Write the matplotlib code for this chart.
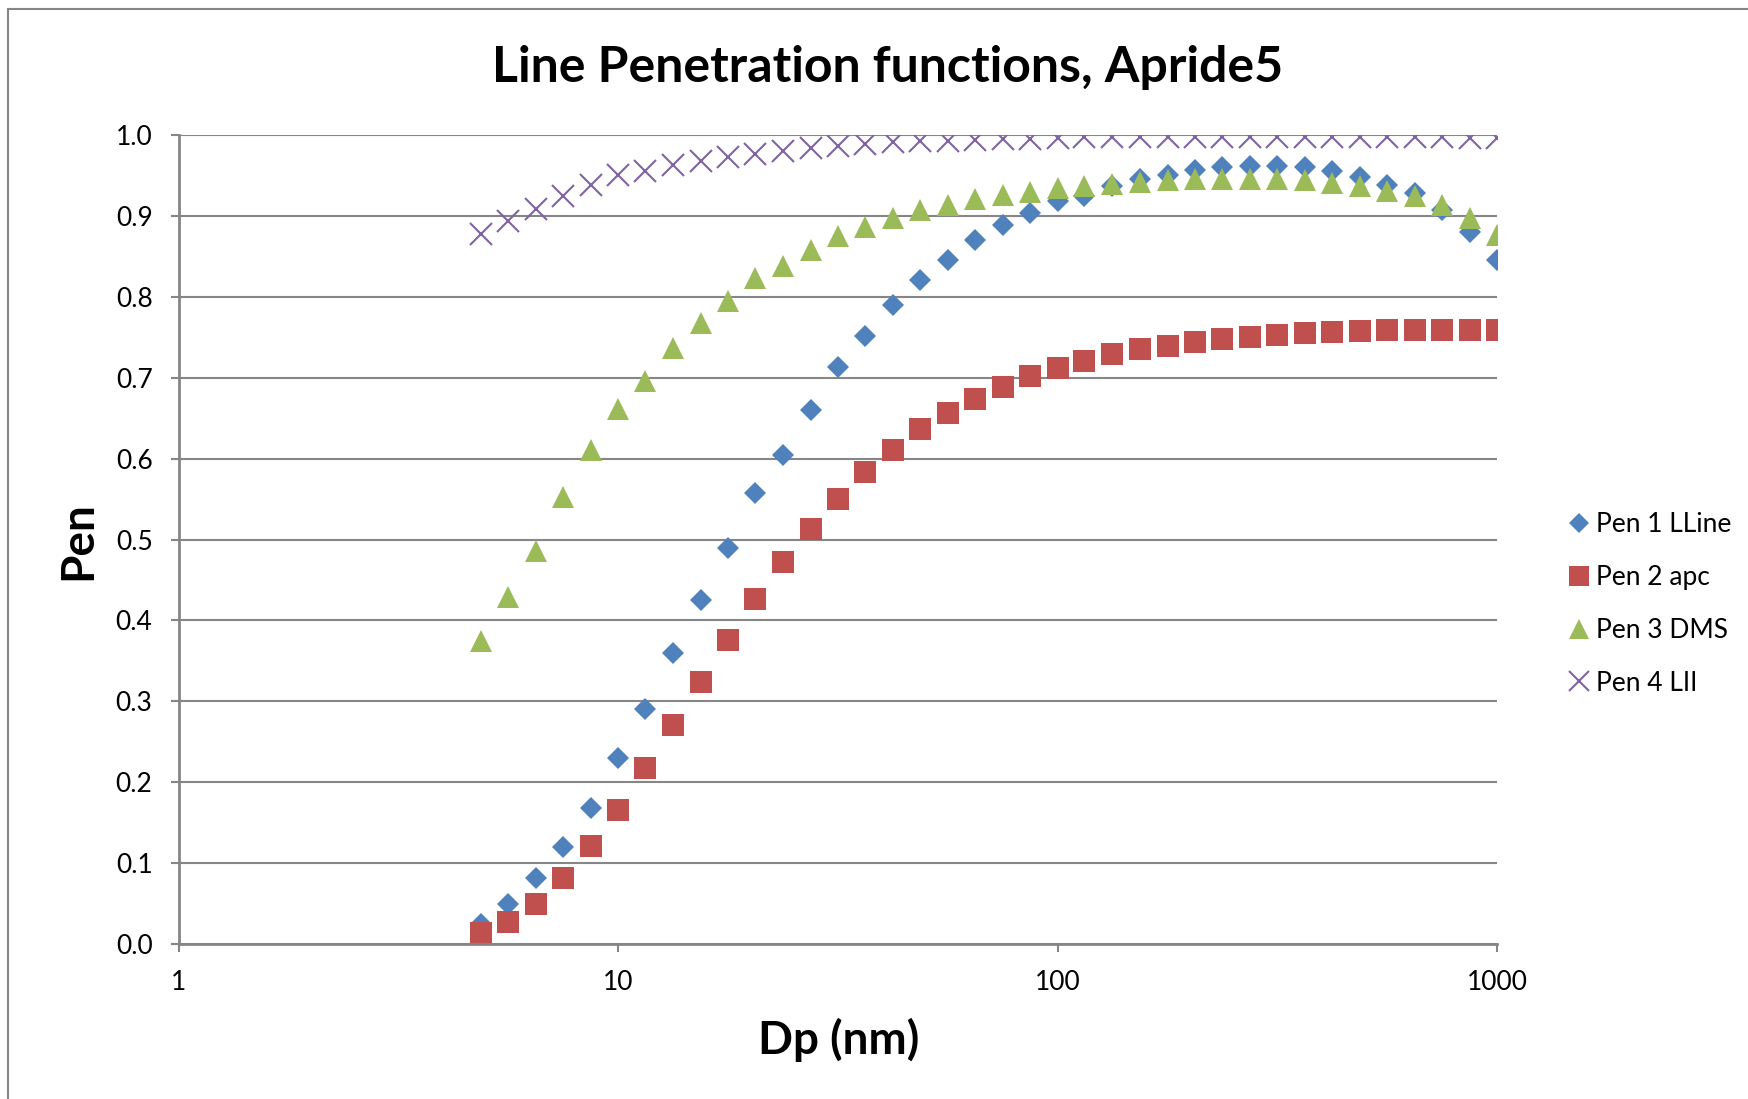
import matplotlib.pyplot as plt
from matplotlib.patches import Rectangle

# Particle diameters (nm), 16 points per decade
dp_nm = [4.87, 5.62, 6.49, 7.50, 8.66, 10.0, 11.5, 13.3, 15.4, 17.8, 20.5,
         23.7, 27.4, 31.6, 36.5, 42.2, 48.7, 56.2, 64.9, 75.0, 86.6, 100,
         115, 133, 154, 178, 205, 237, 274, 316, 365, 422, 487, 562, 649,
         750, 866, 1000]

pen1_lline = [0.025, 0.049, 0.082, 0.120, 0.168, 0.230, 0.290, 0.360, 0.425,
              0.489, 0.557, 0.605, 0.660, 0.713, 0.751, 0.790, 0.821, 0.845,
              0.870, 0.889, 0.904, 0.919, 0.925, 0.937, 0.946, 0.951, 0.957,
              0.960, 0.962, 0.962, 0.960, 0.956, 0.948, 0.938, 0.928, 0.907,
              0.880, 0.846]

pen2_apc = [0.013, 0.027, 0.050, 0.082, 0.121, 0.166, 0.217, 0.271, 0.324,
            0.376, 0.427, 0.472, 0.513, 0.550, 0.583, 0.611, 0.636, 0.656,
            0.674, 0.689, 0.702, 0.712, 0.721, 0.729, 0.735, 0.739, 0.744,
            0.748, 0.750, 0.753, 0.755, 0.756, 0.758, 0.759, 0.759, 0.759,
            0.759, 0.759]

pen3_dms = [0.374, 0.429, 0.486, 0.553, 0.611, 0.661, 0.696, 0.737, 0.768,
            0.795, 0.823, 0.838, 0.858, 0.875, 0.886, 0.898, 0.907, 0.913,
            0.921, 0.926, 0.930, 0.934, 0.937, 0.939, 0.942, 0.944, 0.945,
            0.945, 0.945, 0.945, 0.944, 0.941, 0.937, 0.931, 0.924, 0.913,
            0.897, 0.877]

pen4_lii = [0.878, 0.894, 0.909, 0.925, 0.938, 0.950, 0.956, 0.963, 0.968,
            0.973, 0.977, 0.980, 0.984, 0.987, 0.989, 0.991, 0.992, 0.993,
            0.994, 0.995, 0.995, 0.996, 0.997, 0.997, 0.997, 0.998, 0.998,
            0.998, 0.998, 0.998, 0.998, 0.998, 0.998, 0.997, 0.997, 0.997,
            0.996, 0.996]

x_ticks = [1, 10, 100, 1000]
y_ticks = [0.0, 0.1, 0.2, 0.3, 0.4, 0.5, 0.6, 0.7, 0.8, 0.9, 1.0]


def main():
    plt.rcParams['font.family'] = ['Lato', 'DejaVu Sans']
    grey = '#868686'

    fig = plt.figure(figsize=(17.49, 10.99), dpi=100)
    # chart border: only top and left edges fall inside the picture
    fig.patches.append(Rectangle((8 / 1749, -0.1), 1.2, 1.1 - 9 / 1099,
                                 transform=fig.transFigure, fill=False,
                                 edgecolor=grey, lw=1.5))

    ax = fig.add_axes([179 / 1749, 1 - 944 / 1099, 1318 / 1749, 809 / 1099])

    ax.plot(dp_nm, pen1_lline, 'D', ms=11.5, color='#4F81BD', mew=0,
            label='Pen 1 LLine')
    ax.plot(dp_nm, pen2_apc, 's', ms=16.2, color='#C0504D', mew=0,
            label='Pen 2 apc')
    ax.plot(dp_nm, pen3_dms, '^', ms=16.2, color='#9BBB59', mew=0,
            label='Pen 3 DMS')
    ax.plot(dp_nm, pen4_lii, 'x', ms=16, color='#8064A2', mew=1.5,
            label='Pen 4 LII')

    ax.set_xscale('log')
    ax.set_xlim(1, 1000)
    ax.set_ylim(0, 1.0)
    ax.set_xticks(x_ticks)
    ax.set_xticklabels([str(t) for t in x_ticks], fontsize=19)
    ax.minorticks_off()
    ax.set_yticks(y_ticks)
    ax.set_yticklabels(['%.1f' % t for t in y_ticks], fontsize=19)
    ax.tick_params(colors=grey, labelcolor='black', width=1.5, length=6)
    ax.tick_params(axis='y', pad=13)
    ax.tick_params(axis='x', pad=13)

    ax.yaxis.grid(True, color=grey, lw=1.5)
    ax.set_axisbelow(True)
    for side in ['top', 'right']:
        ax.spines[side].set_visible(False)
    for side in ['left', 'bottom']:
        ax.spines[side].set_color(grey)
        ax.spines[side].set_linewidth(2)

    fig.text(888 / 1749, 1 - 67 / 1099, 'Line Penetration functions, Apride5',
             ha='center', va='center', fontsize=36, fontweight='bold')
    fig.text(839 / 1749, 1 - 1040 / 1099, 'Dp (nm)', ha='center', va='center',
             fontsize=33, fontweight='bold')
    fig.text(78 / 1749, 1 - 541 / 1099, 'Pen', ha='center', va='center',
             rotation=90, fontsize=33, fontweight='bold')

    fig.legend(loc='center left', bbox_to_anchor=(1570 / 1749, 1 - 604 / 1099),
               frameon=False, fontsize=19, markerscale=0.87, handlelength=0.7,
               handletextpad=0.3, labelspacing=1.05, borderpad=0,
               borderaxespad=0)

    fig.savefig('out.png', dpi=100)


if __name__ == '__main__':
    main()
